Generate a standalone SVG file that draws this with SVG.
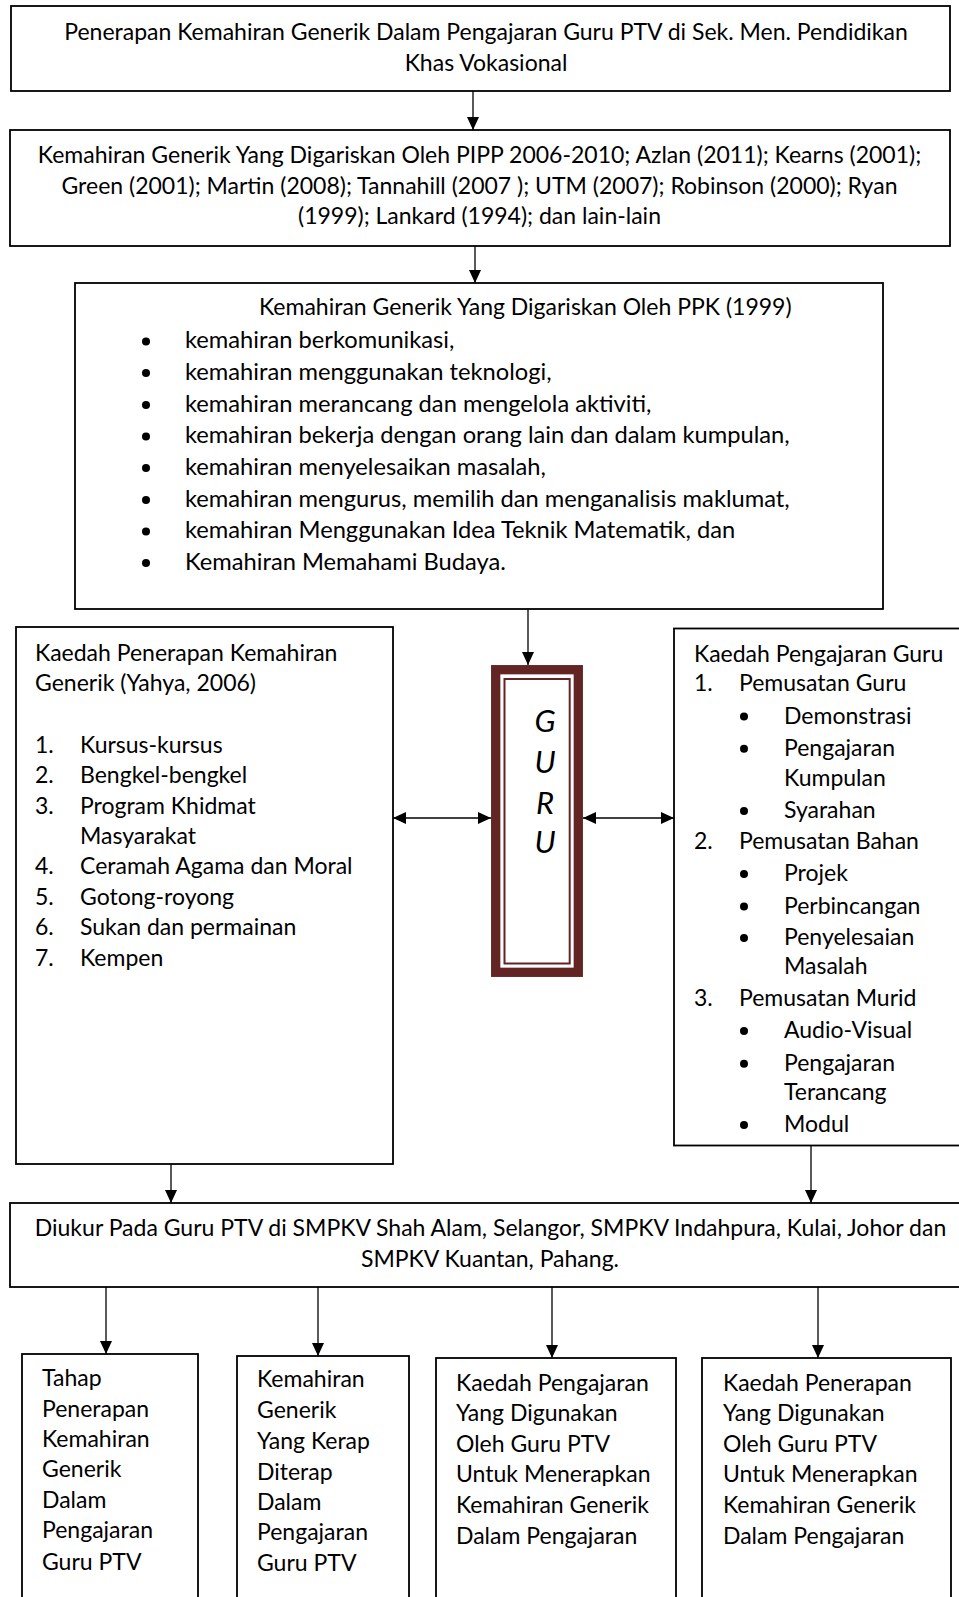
<svg xmlns="http://www.w3.org/2000/svg" width="959" height="1597" viewBox="0 0 959 1597">
<style>
.box{fill:#fff;stroke:#000;stroke-width:1.8}
.t{font-family:Lato,"Open Sans",sans-serif;font-size:23px;fill:#000}
.b{font-size:23.7px}
.c{text-anchor:middle}
.conn line{stroke:#000;stroke-width:1.3}
.guru{fill:none;stroke:#632523}
.gl{font-family:Lato,"Open Sans",sans-serif;font-size:31px;font-style:italic;text-anchor:middle;fill:#000}
</style>
<defs>
<marker id="ah" markerUnits="userSpaceOnUse" markerWidth="13" markerHeight="12" refX="13" refY="6" orient="auto-start-reverse">
<path d="M0,0 L13,6 L0,12 z" fill="#000"/>
</marker>
</defs>
<rect width="959" height="1597" fill="#fff"/>

<g id="n-title">
<rect class="box" x="11" y="6" width="939" height="85"/>
<text class="t c" x="486" y="40">Penerapan Kemahiran Generik Dalam Pengajaran Guru PTV di Sek. Men. Pendidikan</text>
<text class="t c" x="486" y="71">Khas Vokasional</text>
</g>

<g id="n-pipp">
<rect class="box" x="10" y="130" width="940" height="116"/>
<text class="t c" x="479.5" y="163">Kemahiran Generik Yang Digariskan Oleh PIPP 2006-2010; Azlan (2011); Kearns (2001);</text>
<text class="t c" x="479.5" y="193.5">Green (2001); Martin (2008); Tannahill (2007 ); UTM (2007); Robinson (2000); Ryan</text>
<text class="t c" x="479.5" y="224">(1999); Lankard (1994); dan lain-lain</text>
</g>

<g id="n-ppk">
<rect class="box" x="75" y="283" width="808" height="326"/>
<text class="t" x="259" y="315">Kemahiran Generik Yang Digariskan Oleh PPK (1999)</text>
<g fill="#000">
<circle cx="146" cy="341.5" r="4"/><circle cx="146" cy="373" r="4"/><circle cx="146" cy="405" r="4"/><circle cx="146" cy="436.5" r="4"/>
<circle cx="146" cy="468" r="4"/><circle cx="146" cy="500" r="4"/><circle cx="146" cy="531.5" r="4"/><circle cx="146" cy="563" r="4"/>
</g>
<text class="t b" x="185" y="348.3">kemahiran berkomunikasi,</text>
<text class="t b" x="185" y="380">kemahiran menggunakan teknologi,</text>
<text class="t b" x="185" y="411.7">kemahiran merancang dan mengelola aktiviti,</text>
<text class="t b" x="185" y="443.3">kemahiran bekerja dengan orang lain dan dalam kumpulan,</text>
<text class="t b" x="185" y="475">kemahiran menyelesaikan masalah,</text>
<text class="t b" x="185" y="506.7">kemahiran mengurus, memilih dan menganalisis maklumat,</text>
<text class="t b" x="185" y="538.3">kemahiran Menggunakan Idea Teknik Matematik, dan</text>
<text class="t b" x="185" y="570">Kemahiran Memahami Budaya.</text>
</g>

<g id="n-kaedah-penerapan">
<rect class="box" x="16" y="627" width="377" height="537"/>
<text class="t" x="35" y="661">Kaedah Penerapan Kemahiran</text>
<text class="t" x="35" y="691">Generik (Yahya, 2006)</text>
<text class="t" x="35" y="753">1.</text><text class="t" x="80" y="753">Kursus-kursus</text>
<text class="t" x="35" y="783">2.</text><text class="t" x="80" y="783">Bengkel-bengkel</text>
<text class="t" x="35" y="813.6">3.</text><text class="t" x="80" y="813.6">Program Khidmat</text>
<text class="t" x="80" y="844">Masyarakat</text>
<text class="t" x="35" y="874">4.</text><text class="t" x="80" y="874">Ceramah Agama dan Moral</text>
<text class="t" x="35" y="904.6">5.</text><text class="t" x="80" y="904.6">Gotong-royong</text>
<text class="t" x="35" y="935">6.</text><text class="t" x="80" y="935">Sukan dan permainan</text>
<text class="t" x="35" y="966">7.</text><text class="t" x="80" y="966">Kempen</text>
</g>

<g id="n-guru">
<rect x="491" y="665" width="92" height="312" fill="#fff"/>
<rect class="guru" x="495.7" y="669.7" width="82.6" height="302.6" stroke-width="9.3"/>
<rect class="guru" x="504.5" y="679" width="65.2" height="284.5" stroke-width="2"/>
<text class="gl" x="545" y="731.7">G</text>
<text class="gl" x="545" y="773">U</text>
<text class="gl" x="545" y="814">R</text>
<text class="gl" x="545" y="853">U</text>
</g>

<g id="n-kaedah-pengajaran">
<rect class="box" x="674" y="628.5" width="290" height="517"/>
<text class="t" x="694" y="662">Kaedah Pengajaran Guru</text>
<text class="t" x="694" y="691.4">1.</text><text class="t" x="739" y="691.4">Pemusatan Guru</text>
<text class="t" x="784" y="723.6">Demonstrasi</text>
<text class="t" x="784" y="755.7">Pengajaran</text>
<text class="t" x="784" y="785.7">Kumpulan</text>
<text class="t" x="784" y="818">Syarahan</text>
<text class="t" x="694" y="848.6">2.</text><text class="t" x="739" y="848.6">Pemusatan Bahan</text>
<text class="t" x="784" y="881">Projek</text>
<text class="t" x="784" y="913.6">Perbincangan</text>
<text class="t" x="784" y="945">Penyelesaian</text>
<text class="t" x="784" y="974">Masalah</text>
<text class="t" x="694" y="1005.7">3.</text><text class="t" x="739" y="1005.7">Pemusatan Murid</text>
<text class="t" x="784" y="1038">Audio-Visual</text>
<text class="t" x="784" y="1070.7">Pengajaran</text>
<text class="t" x="784" y="1100">Terancang</text>
<text class="t" x="784" y="1132">Modul</text>
<g fill="#000">
<circle cx="744" cy="716.6" r="4"/><circle cx="744" cy="748.7" r="4"/><circle cx="744" cy="811" r="4"/>
<circle cx="744" cy="874" r="4"/><circle cx="744" cy="906.6" r="4"/><circle cx="744" cy="938" r="4"/>
<circle cx="744" cy="1031" r="4"/><circle cx="744" cy="1063.7" r="4"/><circle cx="744" cy="1125" r="4"/>
</g>
</g>

<g id="n-diukur">
<rect class="box" x="10" y="1203" width="965" height="84"/>
<text class="t c" x="490.5" y="1236">Diukur Pada Guru PTV di SMPKV Shah Alam, Selangor, SMPKV Indahpura, Kulai, Johor dan</text>
<text class="t c" x="490" y="1267">SMPKV Kuantan, Pahang.</text>
</g>

<g id="n-tahap">
<rect class="box" x="22" y="1354" width="176" height="260"/>
<text class="t" x="42" y="1386">Tahap</text>
<text class="t" x="42" y="1416.7">Penerapan</text>
<text class="t" x="42" y="1446.7">Kemahiran</text>
<text class="t" x="42" y="1477">Generik</text>
<text class="t" x="42" y="1508">Dalam</text>
<text class="t" x="42" y="1538">Pengajaran</text>
<text class="t" x="42" y="1570">Guru PTV</text>
</g>

<g id="n-kerap">
<rect class="box" x="237" y="1356" width="172" height="260"/>
<text class="t" x="257" y="1387.3">Kemahiran</text>
<text class="t" x="257" y="1418">Generik</text>
<text class="t" x="257" y="1449">Yang Kerap</text>
<text class="t" x="257" y="1480">Diterap</text>
<text class="t" x="257" y="1510">Dalam</text>
<text class="t" x="257" y="1540">Pengajaran</text>
<text class="t" x="257" y="1570.7">Guru PTV</text>
</g>

<g id="n-kaedah-pengajaran-digunakan">
<rect class="box" x="436" y="1358" width="240" height="260"/>
<text class="t" x="456" y="1390.7">Kaedah Pengajaran</text>
<text class="t" x="456" y="1420.7">Yang Digunakan</text>
<text class="t" x="456" y="1451.7">Oleh Guru PTV</text>
<text class="t" x="456" y="1482">Untuk Menerapkan</text>
<text class="t" x="456" y="1513">Kemahiran Generik</text>
<text class="t" x="456" y="1544">Dalam Pengajaran</text>
</g>

<g id="n-kaedah-penerapan-digunakan">
<rect class="box" x="702" y="1358" width="249" height="260"/>
<text class="t" x="723" y="1390.7">Kaedah Penerapan</text>
<text class="t" x="723" y="1420.7">Yang Digunakan</text>
<text class="t" x="723" y="1451.7">Oleh Guru PTV</text>
<text class="t" x="723" y="1482">Untuk Menerapkan</text>
<text class="t" x="723" y="1513">Kemahiran Generik</text>
<text class="t" x="723" y="1544">Dalam Pengajaran</text>
</g>

<g id="connectors" class="conn">
<line x1="473" y1="91" x2="473" y2="130" marker-end="url(#ah)"/>
<line x1="475" y1="246" x2="475" y2="283" marker-end="url(#ah)"/>
<line x1="528" y1="609" x2="528" y2="665" marker-end="url(#ah)"/>
<line x1="393" y1="818" x2="491" y2="818" marker-start="url(#ah)" marker-end="url(#ah)"/>
<line x1="583" y1="818" x2="674" y2="818" marker-start="url(#ah)" marker-end="url(#ah)"/>
<line x1="171" y1="1164" x2="171" y2="1203" marker-end="url(#ah)"/>
<line x1="811" y1="1146" x2="811" y2="1203" marker-end="url(#ah)"/>
<line x1="106" y1="1287" x2="106" y2="1354" marker-end="url(#ah)"/>
<line x1="318" y1="1287" x2="318" y2="1356" marker-end="url(#ah)"/>
<line x1="552" y1="1287" x2="552" y2="1358" marker-end="url(#ah)"/>
<line x1="818" y1="1287" x2="818" y2="1358" marker-end="url(#ah)"/>
</g>
</svg>
